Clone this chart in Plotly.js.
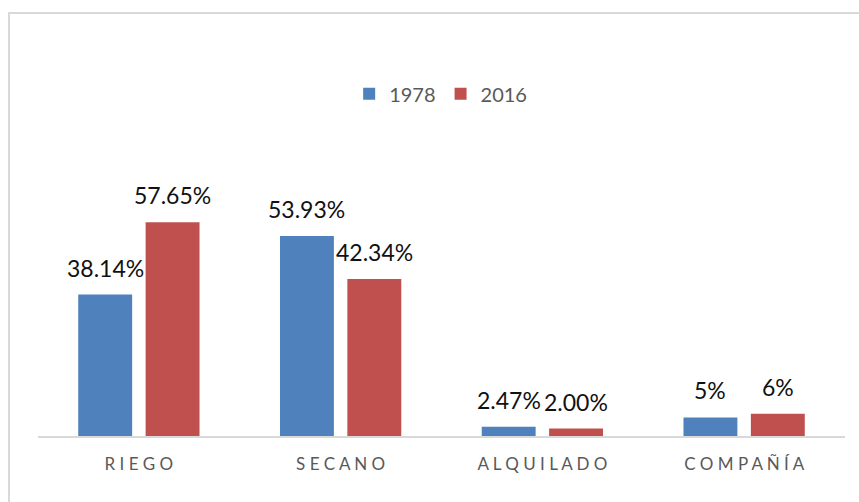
<!DOCTYPE html>
<html>
<head>
<meta charset="utf-8">
<script src="https://cdn.plot.ly/plotly-3.0.1.min.js"></script>
<style>
  html, body { margin: 0; padding: 0; background: #ffffff; }
  #wrap { position: relative; width: 859px; height: 502px; overflow: hidden; }
  #frame { position: absolute; left: 8px; top: 12px; width: 900px; height: 600px; border: 2px solid #d9d9d9; box-sizing: border-box; }
  #chart { position: absolute; left: 0; top: 0; width: 859px; height: 502px; }
</style>
</head>
<body>
<div id="wrap">
  <div id="frame"></div>
  <div id="chart"></div>
</div>
<script>
const categories = ["RIEGO", "SECANO", "ALQUILADO", "COMPAÑÍA"];
const seriesNames = ["1978", "2016"];
const values1978 = [38.14, 53.93, 2.47, 5];
const values2016 = [57.65, 42.34, 2.00, 6];
const labels1978 = ["38.14%", "53.93%", "2.47%", "5%"];
const labels2016 = ["57.65%", "42.34%", "2.00%", "6%"];
const colors = ["#4F81BD", "#C0504D"];

const spaced = categories.map(c => Array.from(c).join(" "));

const traces = [
  { type: "bar", name: seriesNames[0], x: categories, y: values1978, marker: { color: colors[0] }, hoverinfo: "none" },
  { type: "bar", name: seriesNames[1], x: categories, y: values2016, marker: { color: colors[1] }, hoverinfo: "none" }
];

const annotations = [];
const shift = 33.75;
[[values1978, labels1978, -shift], [values2016, labels2016, shift]].forEach(([vals, labs, xs]) => {
  vals.forEach((v, i) => {
    annotations.push({
      x: categories[i], y: v, xref: "x", yref: "y",
      text: labs[i], showarrow: false,
      xanchor: "center", yanchor: "bottom",
      xshift: xs, yshift: 11,
      font: { family: "Lato, 'Open Sans', sans-serif", size: 23, color: "#111111" }
    });
  });
});

const layout = {
  width: 859, height: 502,
  margin: { l: 38, r: 14, t: 176, b: 66 },
  paper_bgcolor: "rgba(0,0,0,0)",
  plot_bgcolor: "rgba(0,0,0,0)",
  barmode: "group",
  bargap: 0.332,
  bargroupgap: 0.2,
  showlegend: true,
  legend: {
    orientation: "h",
    xref: "container", yref: "container",
    x: 0.513, xanchor: "center",
    y: 0.813, yanchor: "middle",
    font: { family: "Lato, 'Open Sans', sans-serif", size: 20, color: "#595959" },
    bgcolor: "rgba(0,0,0,0)"
  },
  xaxis: {
    type: "category",
    tickvals: categories,
    ticktext: spaced,
    showline: true, linecolor: "#d9d9d9", linewidth: 2,
    showgrid: false, zeroline: false, ticks: "",
    ticklabelstandoff: 12,
    tickfont: { family: "Lato, 'Open Sans', sans-serif", size: 17, color: "#595959" }
  },
  yaxis: {
    range: [0, 70.1],
    visible: false, showgrid: false, zeroline: false
  },
  annotations: annotations
};

Plotly.newPlot("chart", traces, layout, { displayModeBar: false, staticPlot: true });
</script>
</body>
</html>
